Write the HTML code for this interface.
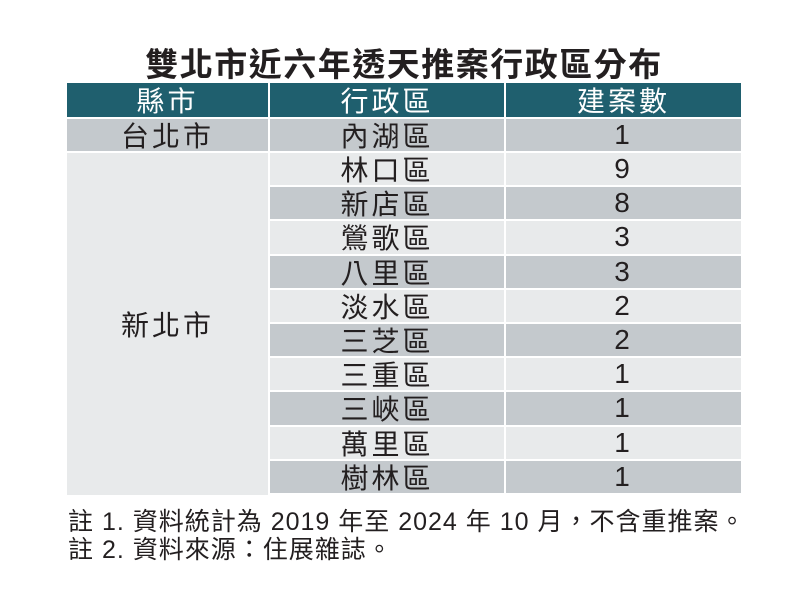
<!DOCTYPE html><html><head><meta charset="utf-8"><style>
body{margin:0;width:800px;height:600px;background:#fff;position:relative;overflow:hidden;font-family:"Liberation Sans","Noto Sans CJK TC",sans-serif;color:#231f20}
.c{position:absolute;display:flex;align-items:center;justify-content:center;font-size:28px;letter-spacing:3px}
.h{background:#1f5f6e;color:#fff}
.d{background:#c4c9cd}.l{background:#e8eaeb}
.t{position:absolute;left:4px;width:800px;top:38px;text-align:center;font-size:33px;font-weight:bold;letter-spacing:1.5px}
.n{position:absolute;left:68px;font-size:25px;letter-spacing:1px;white-space:nowrap}
</style></head><body>
<div class="t">雙北市近六年透天推案行政區分布</div>
<div class="c h" style="left:67px;top:83px;width:201px;height:34px">縣市</div>
<div class="c h" style="left:270px;top:83px;width:234px;height:34px">行政區</div>
<div class="c h" style="left:506px;top:83px;width:235px;height:34px">建案數</div>
<div class="c d" style="left:67px;top:119px;width:201px;height:32px">台北市</div>
<div class="c d" style="left:270px;top:119px;width:234px;height:32px">內湖區</div>
<div class="c d" style="left:506px;top:119px;width:235px;height:32px">1</div>
<div class="c l" style="left:67px;top:153px;width:201px;height:342px">新北市</div>
<div id="rows"></div>
<script>
var r=[["林口區",9],["新店區",8],["鶯歌區",3],["八里區",3],["淡水區",2],["三芝區",2],["三重區",1],["三峽區",1],["萬里區",1],["樹林區",1]];
var h="";r.forEach(function(x,i){var t=153+i*34.2,c=i%2?"d":"l";
h+='<div class="c '+c+'" style="left:270px;top:'+t+'px;width:234px;height:32.2px">'+x[0]+'</div>';
h+='<div class="c '+c+'" style="left:506px;top:'+t+'px;width:235px;height:32.2px">'+x[1]+'</div>';});
document.getElementById("rows").innerHTML=h;
</script>
<div class="n" style="top:502px">註 1. 資料統計為 2019 年至 2024 年 10 月，不含重推案。</div>
<div class="n" style="top:530px">註 2. 資料來源：住展雜誌。</div>
</body></html>
